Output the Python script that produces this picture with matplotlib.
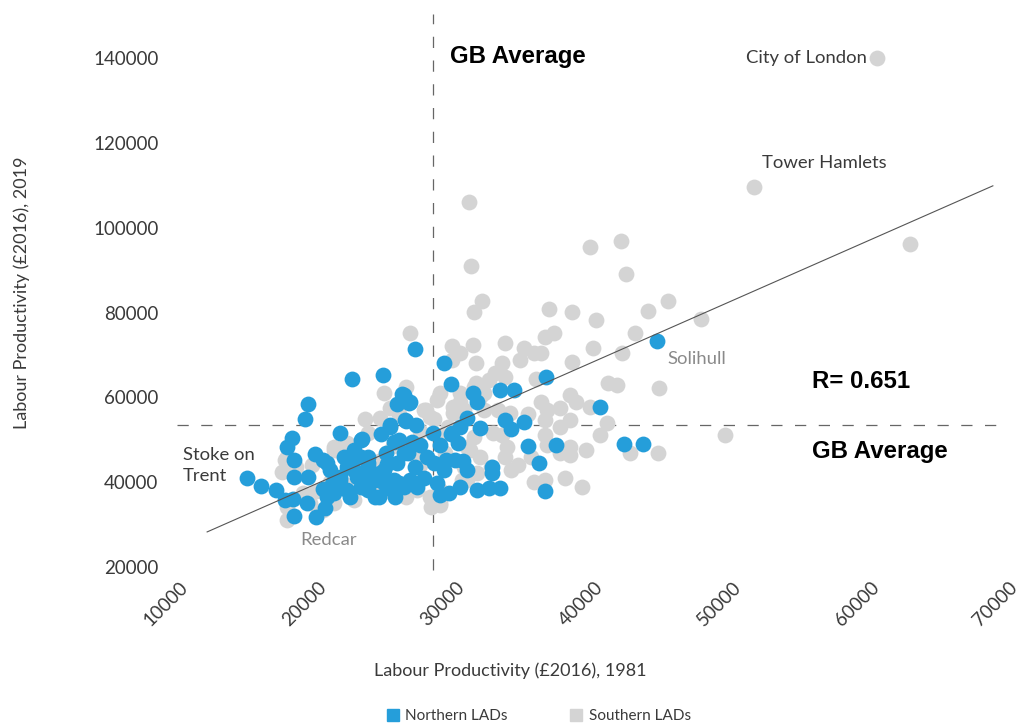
import numpy as np
import matplotlib
matplotlib.use("Agg")
import matplotlib.pyplot as plt
from matplotlib.lines import Line2D

# ---------------- data (GBP thousands, 2016 prices) ----------------
north_x = [14.5, 15.5, 16.6, 17.2, 17.8, 17.9, 18.8, 19.5, 18.9, 17.9,
           17.9, 17.4, 17.7, 18.7, 18.9, 19.4, 20.0, 20.0, 20.1, 20.3,
           20.5, 21.2, 21.2, 21.5, 21.7, 21.7, 22.1, 22.4, 22.7, 22.7,
           22.9, 23.2, 23.7, 23.7, 24.2, 24.3, 24.4, 24.5, 24.6, 24.8,
           25.1, 25.1, 25.3, 25.3, 25.8, 25.8, 25.8, 26.0, 26.2, 26.3,
           26.4, 26.6, 26.6, 26.7, 26.8, 27.0, 27.3, 27.5, 27.9, 28.0,
           28.2, 28.4, 28.4, 28.7, 28.7, 28.9, 29.1, 29.2, 29.2, 29.5,
           20.3, 21.2, 22.2, 23.2, 24.1, 20.8, 22.7, 24.4, 25.5, 22.8,
           24.8, 22.2, 23.2, 25.5, 26.1, 25.7, 26.3, 25.9, 21.9, 24.0,
           25.2, 23.2, 29.9, 29.3, 29.7, 29.9, 30.4, 30.4, 30.8, 31.1,
           31.3, 30.1, 31.1, 32.0, 32.8, 32.2, 32.2, 32.8, 33.8, 33.1,
           34.5, 33.6, 34.8, 35.6, 36.0, 36.1, 36.8, 40.0, 41.7, 43.1,
           44.1, 21.8, 23.0, 24.6, 20.6]
north_y = [41.0, 39.1, 38.2, 35.8, 36.0, 32.0, 35.1, 31.8, 41.2, 41.2,
           45.3, 48.3, 50.4, 54.9, 58.5, 46.7, 45.3, 38.5, 34.0, 36.5,
           42.9, 40.5, 51.6, 46.0, 43.6, 38.2, 64.4, 41.3, 50.0, 46.0,
           38.9, 44.6, 40.5, 36.5, 51.4, 65.3, 42.9, 46.9, 38.7, 53.5,
           49.5, 40.5, 58.5, 44.6, 60.6, 46.9, 38.9, 54.5, 58.7, 40.5,
           49.5, 71.5, 43.6, 53.5, 38.9, 48.8, 41.0, 46.0, 51.6, 44.6,
           39.8, 48.8, 37.0, 68.2, 42.9, 45.3, 37.5, 63.2, 51.4, 45.3,
           44.6, 41.3, 42.9, 43.6, 42.2, 37.5, 38.9, 39.8, 39.8, 50.2,
           53.1, 47.6, 46.0, 50.0, 46.9, 60.9, 59.0, 54.7, 36.5, 36.5,
           36.5, 38.2, 53.1, 51.6, 49.3, 38.9, 42.9, 55.2, 61.1, 59.0,
           52.8, 45.0, 38.2, 38.7, 38.7, 43.6, 42.2, 61.8, 61.8, 54.7,
           54.2, 52.6, 48.6, 44.6, 38.0, 64.9, 48.8, 57.8, 49.0, 49.0,
           73.4, 44.8, 41.8, 44.3, 39.6]

south_x = [60.0, 51.1, 62.4, 30.5, 30.7, 31.5, 30.9, 26.3, 39.3, 41.5,
           41.9, 36.3, 38.0, 39.7, 43.5, 44.9, 47.3, 42.5, 36.7, 36.0,
           39.5, 41.6, 38.0, 33.1, 34.5, 35.2, 35.7, 34.2, 29.3, 30.8,
           29.9, 31.0, 32.9, 32.4, 32.0, 33.1, 35.4, 40.6, 41.2, 44.3,
           31.0, 28.4, 26.0, 29.9, 31.6, 35.7, 36.2, 37.8, 38.3, 39.3,
           40.5, 40.0, 42.2, 49.0, 37.1, 37.8, 37.1, 36.0, 36.0, 37.8,
           37.8, 36.2, 37.1, 37.5, 38.7, 35.2, 33.6, 34.1, 33.3, 32.9,
           33.5, 32.6, 31.6, 30.2, 29.4, 27.4, 27.7, 28.2, 29.9, 30.9,
           31.3, 28.9, 30.9, 32.3, 30.4, 31.3, 33.1, 30.2, 31.1, 32.1,
           30.4, 28.4, 27.7, 28.4, 44.2, 36.0, 29.3,
           24.4, 24.8, 27.3, 29.4, 24.1, 23.2, 21.7, 20.8, 17.4, 24.1,
           22.2, 20.8, 26.0, 26.8, 28.4, 17.4, 19.0, 20.0, 30.0, 17.2,
           17.4, 20.8, 21.0, 27.8, 28.0, 17.0, 18.0, 19.2, 22.0, 25.0,
           26.5, 27.0, 28.0, 25.5, 23.0, 22.5, 21.5, 23.5, 25.0, 27.0,
           28.8, 24.0, 20.5, 19.5, 18.5, 29.0, 30.6, 34.8, 35.0, 39.0]
south_y = [140.2, 109.7, 96.3, 106.2, 91.1, 82.8, 80.2, 75.3, 95.6, 97.0,
           89.2, 80.9, 80.2, 78.3, 80.5, 82.8, 78.6, 75.3, 75.3, 74.3,
           71.7, 70.5, 68.4, 72.9, 71.7, 70.5, 70.5, 68.9, 72.2, 72.4,
           70.5, 68.2, 68.2, 65.8, 64.2, 64.9, 64.4, 63.4, 63.0, 62.3,
           63.4, 61.1, 62.5, 61.1, 61.1, 59.0, 57.1, 60.6, 59.0, 57.8,
           54.0, 51.2, 46.9, 51.2, 57.5, 54.7, 53.1, 54.7, 51.2, 48.3,
           46.4, 48.8, 46.9, 41.0, 38.9, 40.1, 42.9, 44.1, 48.3, 51.2,
           56.4, 57.1, 57.1, 57.1, 56.4, 57.1, 55.4, 59.4, 59.0, 62.5,
           60.1, 51.6, 50.7, 51.6, 48.3, 46.0, 46.0, 43.6, 42.2, 43.6,
           40.5, 38.2, 36.5, 34.6, 46.9, 40.5, 68.9,
           61.1, 57.5, 57.1, 57.8, 55.2, 51.6, 49.3, 48.3, 46.0, 40.5,
           35.8, 35.1, 36.5, 38.2, 35.1, 31.1, 35.1, 33.5, 40.5, 45.3,
           34.2, 47.6, 47.6, 34.2, 36.0, 42.5, 43.5, 44.0, 48.0, 48.5,
           47.0, 52.0, 55.0, 56.0, 55.0, 41.0, 39.5, 39.0, 37.5, 44.0,
           47.0, 45.0, 40.0, 38.0, 37.5, 53.0, 47.5, 56.0, 46.0, 47.5]

gb_avg_1981 = 27.9
gb_avg_2019 = 53.5
r_value = 0.651
fit_slope = 1.4376
fit_intercept = 11.6
fit_range = [11.6, 68.4]

x_ticks = [10000, 20000, 30000, 40000, 50000, 60000, 70000]
y_ticks = [20000, 40000, 60000, 80000, 100000, 120000, 140000]

SCALE = 1000.0
BLUE = "#259eda"
GREY = "#d4d4d4"
TXT = "#3a3a3a"
LINE = "#666666"
FONT = "Lato"
BOLD = "Liberation Sans"

nx = np.array(north_x) * SCALE
ny = np.array(north_y) * SCALE
sx = np.array(south_x) * SCALE
sy = np.array(south_y) * SCALE

fig = plt.figure(figsize=(10.27, 7.27), dpi=100)
ax = fig.add_axes([185 / 1027, 160 / 727, 830 / 1027, 551 / 727])
ax.set_xlim(10000, 70000)
ax.set_ylim(20000, 150000)
for s in ax.spines.values():
    s.set_visible(False)

ax.scatter(sx, sy, s=130, c=GREY, linewidths=0, zorder=2)
ax.scatter(nx, ny, s=130, c=BLUE, linewidths=0, zorder=3)

# reference lines
ax.axvline(gb_avg_1981 * SCALE, ymin=-0.005, ymax=1.003, color=LINE, lw=0.9,
           dashes=(9, 10), zorder=1, clip_on=False)
ax.axhline(gb_avg_2019 * SCALE, xmin=-0.01, xmax=0.992, color=LINE, lw=0.9,
           dashes=(9, 10), zorder=1, clip_on=False)

fx = np.array(fit_range) * SCALE
ax.plot(fx, fit_slope * fx + fit_intercept * SCALE, color="#555555", lw=0.8, zorder=4)

# ticks
ax.set_xticks(x_ticks)
ax.set_xticklabels([str(v) for v in x_ticks], rotation=45, ha="right",
                   rotation_mode="anchor", va="center", fontsize=13.5,
                   family=FONT, color=TXT)
ax.set_yticks(y_ticks)
ax.set_yticklabels([str(v) for v in y_ticks], fontsize=13.5, family=FONT, color=TXT)
ax.tick_params(axis="x", length=0, pad=13)
ax.tick_params(axis="y", length=0, pad=19)

# axis titles
fig.text(510 / 1027, 1 - 671 / 727, "Labour Productivity (£2016), 1981",
         ha="center", va="center", fontsize=13, family=FONT, color=TXT)
fig.text(22 / 1027, 1 - 293 / 727, "Labour Productivity (£2016), 2019",
         ha="center", va="center", rotation=90, fontsize=13, family=FONT, color=TXT)

# annotations
ax.text(29.15 * SCALE, 140.4 * SCALE, "GB Average", fontsize=17.3, family=BOLD,
        weight="bold", color="black", ha="left", va="center")
ax.text(55.3 * SCALE, 47.2 * SCALE, "GB Average", fontsize=17.3, family=BOLD,
        weight="bold", color="black", ha="left", va="center")
ax.text(55.3 * SCALE, 63.7 * SCALE, f"R= {r_value:.3f}", fontsize=17.3, family=BOLD,
        weight="bold", color="black", ha="left", va="center")
ax.text(59.3 * SCALE, 140.2 * SCALE, "City of London", fontsize=13.3, family=FONT,
        color=TXT, ha="right", va="center")
ax.text(51.7 * SCALE, 115.4 * SCALE, "Tower Hamlets", fontsize=13.3, family=FONT,
        color=TXT, ha="left", va="center")
ax.text(44.9 * SCALE, 69.1 * SCALE, "Solihull", fontsize=13.3, family=FONT,
        color="#8a8a8a", ha="left", va="center")
ax.text(18.3 * SCALE, 26.4 * SCALE, "Redcar", fontsize=13.3, family=FONT,
        color="#8a8a8a", ha="left", va="center")
ax.text(9.85 * SCALE, 44.0 * SCALE, "Stoke on\nTrent", fontsize=13.3, family=FONT,
        color=TXT, ha="left", va="center", linespacing=1.4, clip_on=False)

# legend
handles = [Line2D([], [], marker="s", ls="", color=BLUE, markersize=8),
           Line2D([], [], marker="s", ls="", color=GREY, markersize=8)]
fig.legend(handles, ["Northern LADs", "Southern LADs"], loc="center",
           bbox_to_anchor=(538 / 1027, 1 - 716 / 727), ncol=2, frameon=False,
           prop={"family": FONT, "size": 11}, handletextpad=0.3,
           columnspacing=4.0, handlelength=1.0, labelcolor=TXT)

fig.savefig("out.png", dpi=100, facecolor="white")
